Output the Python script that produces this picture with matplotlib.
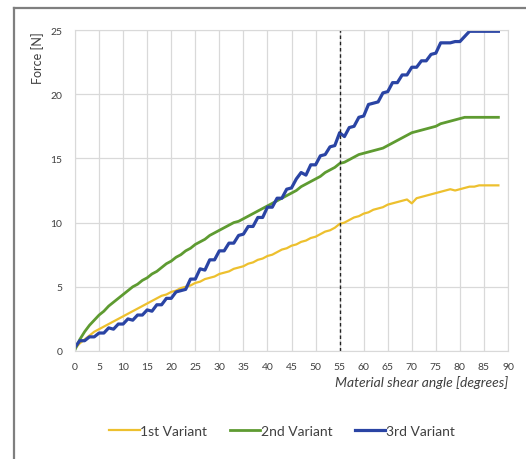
import matplotlib
matplotlib.use("Agg")
import matplotlib.pyplot as plt
from matplotlib.lines import Line2D
import numpy as np

plt.rcParams['font.family'] = ['Lato', 'DejaVu Sans']

# shear angle in degrees, one sample per degree
angle = np.arange(0, 89)

variant_1 = [0.2, 0.6, 0.9, 1.2, 1.5, 1.7, 1.9, 2.1, 2.3, 2.5,
             2.7, 2.9, 3.1, 3.3, 3.5, 3.7, 3.9, 4.1, 4.3, 4.4,
             4.6, 4.7, 4.9, 5.0, 5.1, 5.3, 5.4, 5.6, 5.7, 5.8,
             6.0, 6.1, 6.2, 6.4, 6.5, 6.6, 6.8, 6.9, 7.1, 7.2,
             7.4, 7.5, 7.7, 7.9, 8.0, 8.2, 8.3, 8.5, 8.6, 8.8,
             8.9, 9.1, 9.3, 9.4, 9.6, 9.9, 10.0, 10.2, 10.4, 10.5,
             10.7, 10.8, 11.0, 11.1, 11.2, 11.4, 11.5, 11.6, 11.7, 11.8,
             11.5, 11.9, 12.0, 12.1, 12.2, 12.3, 12.4, 12.5, 12.6, 12.5,
             12.6, 12.7, 12.8, 12.8, 12.9, 12.9, 12.9, 12.9, 12.9]

variant_2 = [0.1, 0.9, 1.5, 2.0, 2.4, 2.8, 3.1, 3.5, 3.8, 4.1,
             4.4, 4.7, 5.0, 5.2, 5.5, 5.7, 6.0, 6.2, 6.5, 6.8,
             7.0, 7.3, 7.5, 7.8, 8.0, 8.3, 8.5, 8.7, 9.0, 9.2,
             9.4, 9.6, 9.8, 10.0, 10.1, 10.3, 10.5, 10.7, 10.9, 11.1,
             11.3, 11.5, 11.7, 11.9, 12.1, 12.3, 12.5, 12.8, 13.0, 13.2,
             13.4, 13.6, 13.9, 14.1, 14.3, 14.6, 14.7, 14.9, 15.1, 15.3,
             15.4, 15.5, 15.6, 15.7, 15.8, 16.0, 16.2, 16.4, 16.6, 16.8,
             17.0, 17.1, 17.2, 17.3, 17.4, 17.5, 17.7, 17.8, 17.9, 18.0,
             18.1, 18.2, 18.2, 18.2, 18.2, 18.2, 18.2, 18.2, 18.2]

variant_3 = [0.3, 0.8, 0.8, 1.1, 1.1, 1.4, 1.4, 1.8, 1.7, 2.1,
             2.1, 2.5, 2.4, 2.8, 2.8, 3.2, 3.1, 3.6, 3.6, 4.1,
             4.1, 4.6, 4.7, 4.8, 5.6, 5.6, 6.4, 6.3, 7.1, 7.1,
             7.8, 7.8, 8.4, 8.4, 9.0, 9.1, 9.7, 9.7, 10.4, 10.4,
             11.2, 11.2, 11.9, 11.9, 12.6, 12.7, 13.4, 13.9, 13.7, 14.5,
             14.5, 15.2, 15.3, 15.9, 16.0, 17.0, 16.7, 17.4, 17.5, 18.2,
             18.3, 19.2, 19.3, 19.4, 20.1, 20.2, 20.9, 20.9, 21.5, 21.5,
             22.1, 22.1, 22.6, 22.6, 23.1, 23.2, 24.0, 24.0, 24.0, 24.1,
             24.1, 24.5, 24.9, 24.9, 24.9, 24.9, 24.9, 24.9, 24.9]

labels = ["1st Variant", "2nd Variant", "3rd Variant"]
colors = ["#EDC02E", "#5E9B31", "#2A44A4"]
widths = [1.6, 2.0, 2.3]

fig = plt.figure(figsize=(5.26, 4.6), dpi=100)
ax = fig.add_axes([0.1426, 0.2348, 0.8232, 0.6978])

for y, lab, c, w in zip([variant_1, variant_2, variant_3], labels, colors, widths):
    ax.plot(angle, y, color=c, lw=w, label=lab)

# reference angle
ax.axvline(55, color="#222222", lw=1.0, linestyle=(0, (2.5, 2)))

ax.set_xlim(0, 90)
ax.set_ylim(0, 25)
ax.set_xticks(np.arange(0, 91, 5))
ax.set_yticks(np.arange(0, 26, 5))
ax.grid(True, color="#d9d9d9", lw=0.9)
ax.set_axisbelow(True)
for s in ax.spines.values():
    s.set_color("#d9d9d9")
ax.tick_params(length=0, labelsize=7.5, colors="#404040")
ax.tick_params(axis="y", pad=9)
ax.tick_params(axis="x", pad=8)

ax.set_ylabel("Force [N]", fontsize=9, color="#404040")
ax.yaxis.set_label_coords(-0.072, 0.915)
ax.set_xlabel("Material shear angle [degrees]", fontsize=10, style="italic",
              color="#404040", loc="right", labelpad=3)

fig.legend(loc="center", bbox_to_anchor=(0.536, 0.061), ncol=3, frameon=False,
           fontsize=10, handlelength=2.2, handletextpad=0.05, columnspacing=1.6,
           labelcolor="#404040")

# outer chart frame
fig.add_artist(Line2D([14 / 526, 14 / 526], [0, 1 - 9 / 460], color="#7f7f7f", lw=1.6,
                      transform=fig.transFigure))
fig.add_artist(Line2D([14 / 526, 1], [1 - 9 / 460, 1 - 9 / 460], color="#7f7f7f", lw=1.6,
                      transform=fig.transFigure))

fig.savefig("out.png", dpi=100)
